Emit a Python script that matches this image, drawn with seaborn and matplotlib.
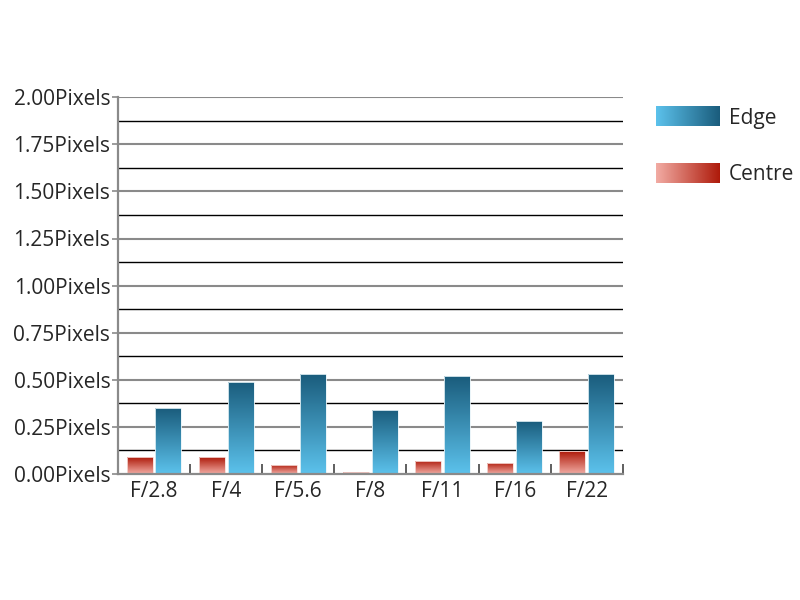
import numpy as np
import pandas as pd
import matplotlib
matplotlib.use("Agg")
import matplotlib.pyplot as plt
import seaborn as sns
from matplotlib.colors import LinearSegmentedColormap
from matplotlib.image import BboxImage
from matplotlib.transforms import Bbox, TransformedBbox
from matplotlib.legend_handler import HandlerBase
from matplotlib.patches import Patch
from matplotlib.ticker import FixedLocator

# data
apertures = ["F/2.8", "F/4", "F/5.6", "F/8", "F/11", "F/16", "F/22"]
centre = [0.09, 0.09, 0.05, 0.01, 0.07, 0.06, 0.12]
edge = [0.35, 0.49, 0.53, 0.34, 0.52, 0.28, 0.53]

df = pd.DataFrame({
    "aperture": apertures * 2,
    "value": centre + edge,
    "zone": ["Centre"] * len(apertures) + ["Edge"] * len(apertures),
})

# gradients (light -> dark)
edge_cmap = LinearSegmentedColormap.from_list("edge", ["#5cc2ec", "#1a5c7c"])
centre_cmap = LinearSegmentedColormap.from_list("centre", ["#f2aca4", "#ae1a0a"])
cmaps = {"Edge": edge_cmap, "Centre": centre_cmap}

sns.set_style("white")
plt.rcParams["font.family"] = ["Open Sans", "DejaVu Sans"]
FS = 15

fig = plt.figure(figsize=(8, 6), dpi=100)
ax = fig.add_axes([0.1475, 0.21, 0.631, 0.628])

sns.barplot(data=df, x="aperture", y="value", hue="zone", hue_order=["Centre", "Edge"],
            order=apertures, palette={"Centre": "#c0392b", "Edge": "#2a7fa6"},
            width=0.8, gap=0.1, legend=False, ax=ax, zorder=3)

# gradient fill on each bar
grad = np.linspace(0, 1, 256).reshape(-1, 1)
for cont, zone in zip(ax.containers, ["Centre", "Edge"]):
    for bar in cont:
        x0, y0 = bar.get_x(), bar.get_y()
        w, h = bar.get_width(), bar.get_height()
        bar.set_facecolor("none")
        bar.set_edgecolor("#e8f4f8" if zone == "Edge" else "#f6dcd8")
        bar.set_linewidth(0.6)
        im = ax.imshow(grad, cmap=cmaps[zone], origin="lower", aspect="auto",
                       extent=[x0, x0 + w, y0, y0 + h], zorder=2.5)
        im.set_clip_path(bar)

ax.set_xlim(-0.5, len(apertures) - 0.5)
ax.set_ylim(0, 2.0)

# grid: grey majors, black minors
for v in np.arange(0.25, 2.01, 0.25):
    ax.axhline(v, color="#8a8a8a", lw=1.5, zorder=1)
for v in np.arange(0.125, 2.0, 0.25):
    ax.axhline(v, color="black", lw=1.0, zorder=1)

yticks = np.arange(0, 2.01, 0.25)
ax.set_yticks(yticks)
ax.set_yticklabels([f"{v:.2f}Pixels" for v in yticks])
ax.tick_params(axis="y", which="major", direction="out", length=4, width=1.2,
               color="#8a8a8a", labelsize=FS, pad=1.5, left=True)
ax.tick_params(axis="x", which="major", length=0, labelsize=FS, pad=5)
ax.xaxis.set_minor_locator(FixedLocator(np.arange(0.5, len(apertures), 1.0)))
ax.tick_params(axis="x", which="minor", direction="in", length=7, width=1.2,
               color="#444444", bottom=True)
ax.set_xlabel("")
ax.set_ylabel("")

for s in ["top", "right"]:
    ax.spines[s].set_visible(False)
for s in ["left", "bottom"]:
    ax.spines[s].set_color("#8a8a8a")
    ax.spines[s].set_linewidth(1.6)
ax.spines["bottom"].set_zorder(4)


class GradientHandler(HandlerBase):
    def __init__(self, cmap):
        super().__init__()
        self.cmap = cmap

    def create_artists(self, legend, orig_handle, xdescent, ydescent, width, height, fontsize, trans):
        bb = Bbox.from_bounds(-xdescent, -ydescent, width, height)
        img = BboxImage(TransformedBbox(bb, trans), cmap=self.cmap, interpolation="bilinear")
        img.set_data(np.linspace(0, 1, 256).reshape(1, -1))
        return [img]


h_edge = Patch(label="Edge")
h_centre = Patch(label="Centre")
fig.legend(handles=[h_edge, h_centre], labels=["Edge", "Centre"],
           handler_map={h_edge: GradientHandler(edge_cmap), h_centre: GradientHandler(centre_cmap)},
           loc="upper left", bbox_to_anchor=(0.8205, 0.822), frameon=False,
           fontsize=FS, handlelength=3.05, handleheight=1.05, labelspacing=1.68,
           handletextpad=0.42, borderpad=0, borderaxespad=0)

fig.savefig("out.png", dpi=100)
